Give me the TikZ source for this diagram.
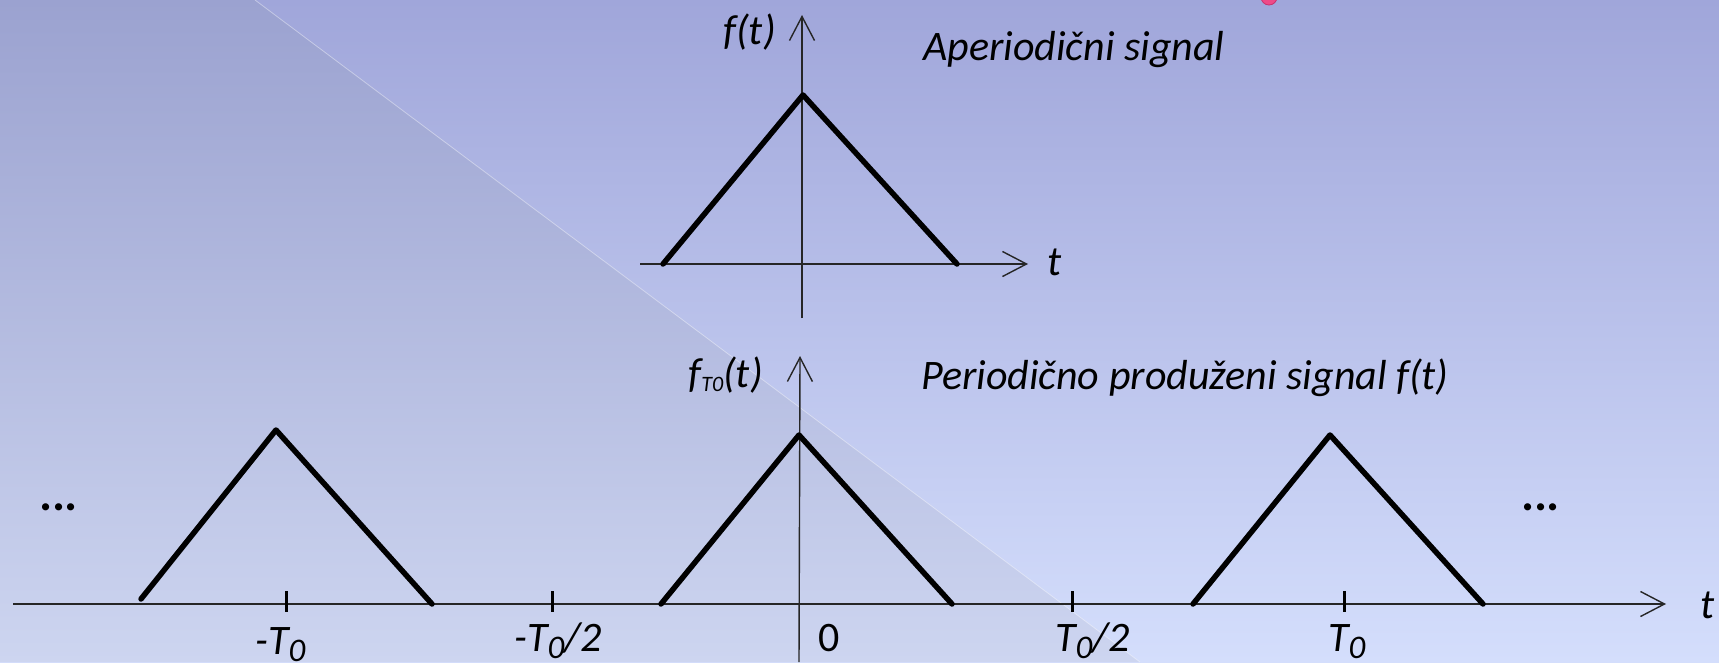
\documentclass[tikz,border=0pt]{standalone}
\usepackage{fontspec}
\setmainfont{Carlito}
\usetikzlibrary{arrows.meta}
\definecolor{bgtop}{HTML}{A0A6DA}
\definecolor{bgbot}{HTML}{D4DEFC}
\definecolor{shtop}{HTML}{9BA2D0}
\definecolor{shbot}{HTML}{CDD5F0}
\definecolor{pinkdot}{HTML}{EE4A88}
\definecolor{pinkedge}{HTML}{C8326E}
\newcommand\lowsub[1]{\raisebox{-7pt}{\fontsize{33}{38}\selectfont #1}}
\newcommand\tinysub[1]{\raisebox{-4pt}{\fontsize{22}{26}\selectfont #1}}
\tikzset{
  lbl/.style={font=\fontsize{42}{50}\selectfont\itshape, inner sep=0pt, text=black},
  dots/.style={lbl, font=\fontsize{48}{56}\selectfont\bfseries\itshape},
  axis/.style={line width=1.4pt, draw=black!85},
  axisarrow/.style={axis, -{Straight Barb[length=24pt,width=25pt,line width=1.4pt]}},
  sig/.style={line width=5.5pt, line cap=round, line join=round},
  tick/.style={line width=3pt}
}
\begin{document}
\begin{tikzpicture}[x=1pt,y=-1pt]
\useasboundingbox (0,0) rectangle (1719,662);
% background
\shade[top color=bgtop, bottom color=bgbot] (0,0) rectangle (1719,662);
\shade[top color=shtop, bottom color=shbot] (0,0) -- (255,0) -- (1140,662) -- (0,662) -- cycle;
\draw[white, opacity=0.4, line width=0.8pt] (255,0) -- (1140,662);
\fill[pinkdot, draw=pinkedge, line width=0.8pt] (1269,-3) circle (8);

% ---- top plot ----
\coordinate (ty0) at (802,318);
\coordinate (ty1) at (802,15);
\coordinate (tx0) at (640,264);
\coordinate (tx1) at (1028,264);
\draw[axisarrow] (ty0) -- (ty1);
\draw[axisarrow] (tx0) -- (tx1);
\coordinate (ta) at (663,264);
\coordinate (tb) at (803,95);
\coordinate (tc) at (957,264);
\draw[sig] (ta) -- (tb) -- (tc);
\node[lbl, anchor=base east] (ft) at (776,44) {f(t)};
\node[lbl, anchor=base west] (ttop) at (1047,275) {t};
\node[lbl, anchor=base west] (aper) at (923,60) {Aperiodični signal};

% ---- bottom plot ----
\coordinate (by0) at (799,662);
\coordinate (by1) at (800,356);
\coordinate (bx0) at (13,604);
\coordinate (bx1) at (1666,604);
\draw[axisarrow] (by0) -- (by1);
\draw[axisarrow] (bx0) -- (bx1);

\coordinate (l1) at (141,599);
\coordinate (l2) at (276,430);
\coordinate (l3) at (432,604);
\draw[sig] (l1) -- (l2) -- (l3);
\coordinate (c1) at (661,604);
\coordinate (c2) at (799,435);
\coordinate (c3) at (952,604);
\draw[sig] (c1) -- (c2) -- (c3);
\coordinate (r1) at (1193,604);
\coordinate (r2) at (1330,435);
\coordinate (r3) at (1483,604);
\draw[sig] (r1) -- (r2) -- (r3);

\foreach \x/\nm in {286/tkA, 552/tkB, 1072/tkC, 1344/tkD}{
  \coordinate (\nm u) at (\x,591);
  \coordinate (\nm d) at (\x,612);
  \draw[tick] (\nm u) -- (\nm d);
}

\node[lbl, anchor=base east] (fto) at (763,387) {f\tinysub{T0}(t)};
\node[lbl, anchor=base west] (per) at (921,389) {Periodično produženi signal f(t)};
\node[lbl, anchor=base west] (tbot) at (1700,618) {t};

\node[lbl, anchor=base west] (mT) at (255,654) {-T\lowsub{0}};
\node[lbl, anchor=base west] (mT2) at (514,651) {-T\lowsub{0}/2};
\node[lbl, anchor=base west] (zero) at (818,651) {\upshape 0};
\node[lbl, anchor=base west] (pT2) at (1055,651) {T\lowsub{0}/2};
\node[lbl, anchor=base west] (pT) at (1328,651) {T\lowsub{0}};

\node[dots, anchor=base west] (dl) at (40,510) {...};
\node[dots, anchor=base west] (dr) at (1522,510) {...};
\end{tikzpicture}
\end{document}
